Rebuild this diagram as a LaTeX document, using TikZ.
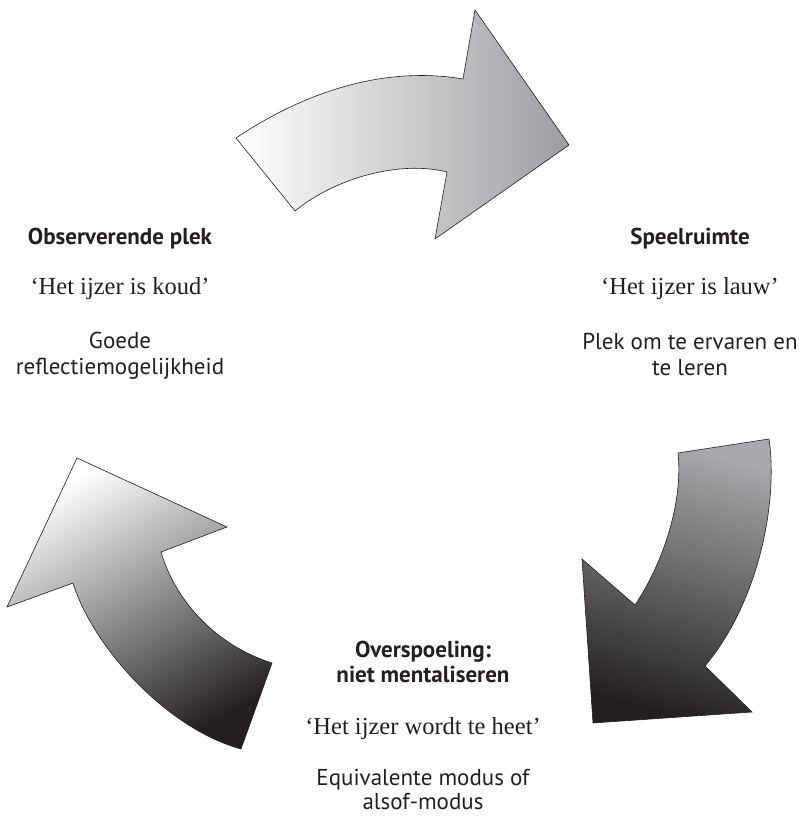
\documentclass[tikz,border=0pt]{standalone}
\usepackage{fontspec}
\setmainfont{Liberation Serif}
\setsansfont{PT Sans}
\definecolor{ink}{HTML}{231F20}
\definecolor{topend}{HTML}{9C9DA1}
\definecolor{rightstart}{HTML}{A8A9AC}
\definecolor{leftmid}{HTML}{A3A4A7}
\begin{document}
\begin{tikzpicture}[x=1pt,y=-1pt,
  arrowshape/.style={draw=ink, line width=0.6pt, line join=miter},
  headtxt/.style={font=\sffamily\bfseries\fontsize{23}{24}\selectfont, text=ink, anchor=base, inner sep=0pt},
  quotetxt/.style={font=\fontsize{24.5}{26}\selectfont, text=ink, anchor=base, inner sep=0pt},
  desctxt/.style={font=\sffamily\fontsize{23}{26}\selectfont, text=ink, anchor=base, inner sep=0pt}]
\useasboundingbox (0,0) rectangle (804,816);
% top arrow
\path[arrowshape, left color=white, right color=topend]
  (236,138) .. controls (300,95) and (380,65) .. (463,79) -- (475,10) -- (569,145) -- (435,239) -- (447,172)
  .. controls (400,160) and (335,178) .. (295,211) -- cycle;
% right arrow
\path[arrowshape, top color=rightstart, bottom color=ink, shading angle=-15]
  (678,453) -- (769,439) .. controls (778,500) and (760,600) .. (705,666) -- (752,712) -- (593,723) -- (582,559) -- (635,605)
  .. controls (665,560) and (683,500) .. (678,453) -- cycle;
% left arrow
\path[arrowshape, top color=white, middle color=leftmid, bottom color=ink, shading angle=29]
  (77,458) -- (227,527) -- (161,552) .. controls (175,600) and (215,645) .. (272,663) -- (241,749)
  .. controls (165,728) and (92,645) .. (73,583) -- (7,607) -- cycle;
% texts left
\node[headtxt] (obsHead) at (120,244) {Observerende plek};
\node[quotetxt] (obsQuote) at (120,294) {‘Het ijzer is koud’};
\node[desctxt] (obsDescA) at (120,348) {Goede};
\node[desctxt] (obsDescB) at (120,374) {reflectiemogelijkheid};
% texts right
\node[headtxt] (spHead) at (690,244) {Speelruimte};
\node[quotetxt] (spQuote) at (690,294) {‘Het ijzer is lauw’};
\node[desctxt] (spDescA) at (690,349) {Plek om te ervaren en};
\node[desctxt] (spDescB) at (690,375) {te leren};
% texts bottom
\node[headtxt] (ovHeadA) at (423,657) {Overspoeling:};
\node[headtxt] (ovHeadB) at (423,682) {niet mentaliseren};
\node[quotetxt] (ovQuote) at (423,734) {‘Het ijzer wordt te heet’};
\node[desctxt] (ovDescA) at (423,785) {Equivalente modus of};
\node[desctxt] (ovDescB) at (423,809) {alsof-modus};
\end{tikzpicture}
\end{document}
